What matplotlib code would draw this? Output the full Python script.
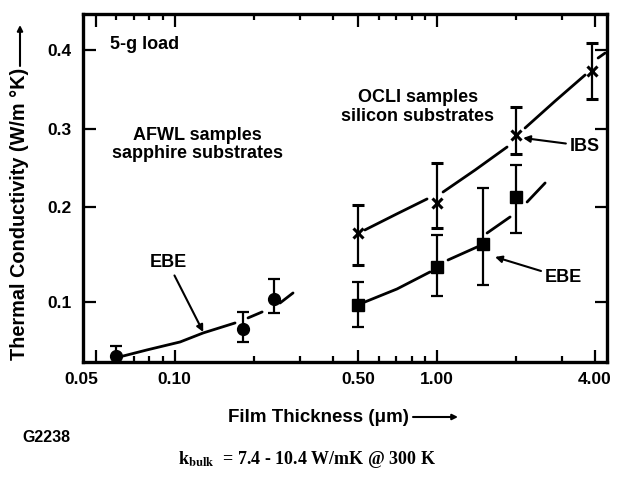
import matplotlib.pyplot as plt
import numpy as np
import matplotlib.transforms as mtransforms
from matplotlib.ticker import FixedLocator, FixedFormatter, NullFormatter

plt.rcParams['font.family'] = ['Liberation Sans', 'DejaVu Sans']
plt.rcParams['font.weight'] = 'bold'
plt.rcParams['mathtext.fontset'] = 'stix'

# AFWL samples, sapphire substrates (EBE) - circles
afwl_x = [0.060, 0.182, 0.239]
afwl_y = [0.0431, 0.0716, 0.1032]
afwl_lo = [0.033, 0.0579, 0.0884]
afwl_hi = [0.0537, 0.0895, 0.1242]

# OCLI samples, silicon substrates, IBS - crosses
ibs_x = [0.5, 1.0, 2.0, 3.9]
ibs_y = [0.1726, 0.2051, 0.2924, 0.3734]
ibs_lo = [0.1389, 0.1779, 0.2679, 0.338]
ibs_hi = [0.2026, 0.2564, 0.3278, 0.4089]

# OCLI samples, silicon substrates, EBE - squares
ebe_x = [0.5, 1.0, 1.5, 2.0]
ebe_y = [0.0968, 0.1368, 0.1611, 0.2128]
ebe_lo = [0.0737, 0.1063, 0.1179, 0.1726]
ebe_hi = [0.1211, 0.1705, 0.2244, 0.2538]

# hand drawn trend curves, broken at the markers
afwl_fit_x = [[0.0637, 0.0785, 0.105, 0.1286, 0.170], [0.1905, 0.2156], [0.2522, 0.2827]]
afwl_fit_y = [[0.0431, 0.0495, 0.0579, 0.0674, 0.0779], [0.0832, 0.0895], [0.0989, 0.1095]]

ibs_fit_x = [[0.531, 0.70, 0.916], [1.054, 1.396, 1.848], [2.164, 2.817, 3.664], [4.107, 4.367]]
ibs_fit_y = [[0.1758, 0.1925, 0.2103], [0.2192, 0.2474, 0.2769], [0.3013, 0.3354, 0.3684], [0.3899, 0.3962]]

ebe_fit_x = [[0.531, 0.704, 0.940], [1.101, 1.421], [1.551, 1.898], [2.203, 2.580]]
ebe_fit_y = [[0.1, 0.1137, 0.1316], [0.1442, 0.1579], [0.1726, 0.1895], [0.2064, 0.2308]]

x_ticks = [0.05, 0.1, 0.5, 1.0, 4.0]
x_ticklabels = ['0.05', '0.10', '0.50', '1.00', '4.00']
x_minor = [0.06, 0.07, 0.08, 0.09, 0.2, 0.3, 0.4, 0.6, 0.7, 0.8, 0.9, 2.0, 3.0]
y_ticks = [0.1, 0.2, 0.3, 0.4]
y_ticklabels = ['0.1', '0.2', '0.3', '0.4']

# the original y axis is not evenly spaced, so map it piecewise
y_ref = [0.0, 0.1, 0.2, 0.3, 0.4, 0.5]
y_pos = [-35, 60, 155, 233, 312, 391]


def y_fwd(v):
    return np.interp(v, y_ref, y_pos)


def y_inv(p):
    return np.interp(p, y_pos, y_ref)


fig = plt.figure(figsize=(6.24, 4.79), dpi=100)
ax = fig.add_axes([83 / 624, 117 / 479, 524 / 624, 348 / 479])
ax.set_xscale('log')
ax.set_yscale('function', functions=(y_fwd, y_inv))
ax.set_xlim(0.0448, 4.44)
ax.set_ylim(0.0368, 0.4456)

lw = 2.0
for xs, ys in zip(afwl_fit_x, afwl_fit_y):
    ax.plot(xs, ys, color='k', lw=lw, solid_capstyle='round', solid_joinstyle='round')
for xs, ys in zip(ibs_fit_x, ibs_fit_y):
    ax.plot(xs, ys, color='k', lw=lw, solid_capstyle='round', solid_joinstyle='round')
for xs, ys in zip(ebe_fit_x, ebe_fit_y):
    ax.plot(xs, ys, color='k', lw=lw, solid_capstyle='round', solid_joinstyle='round')


def err(y, lo, hi):
    y = np.array(y)
    return [y - np.array(lo), np.array(hi) - y]


ax.errorbar(afwl_x, afwl_y, yerr=err(afwl_y, afwl_lo, afwl_hi), fmt='o', ms=8.5,
            color='k', elinewidth=1.6, capsize=4, capthick=1.6)
ax.errorbar(ebe_x, ebe_y, yerr=err(ebe_y, ebe_lo, ebe_hi), fmt='s', ms=8,
            color='k', elinewidth=1.6, capsize=4, capthick=1.6)
ax.errorbar(ibs_x, ibs_y, yerr=err(ibs_y, ibs_lo, ibs_hi), fmt='x', ms=6.5, mew=2.2,
            color='k', elinewidth=1.6, capsize=4, capthick=1.6)

for s in ax.spines.values():
    s.set_linewidth(2.4)

ax.xaxis.set_major_locator(FixedLocator(x_ticks))
ax.xaxis.set_major_formatter(FixedFormatter(x_ticklabels))
ax.xaxis.set_minor_locator(FixedLocator(x_minor))
ax.xaxis.set_minor_formatter(NullFormatter())
ax.yaxis.set_major_locator(FixedLocator(y_ticks))
ax.yaxis.set_major_formatter(FixedFormatter(y_ticklabels))
ax.yaxis.set_minor_locator(FixedLocator([]))

ax.tick_params(which='major', direction='in', top=True, right=True,
               length=9, width=1.6, labelsize=12.5, pad=8)
ax.tick_params(which='minor', direction='in', top=True, right=True,
               length=4, width=1.6)
ax.tick_params(axis='x', which='major', pad=7)

# the 0.05 label sits at the corner of the frame
lab = ax.xaxis.get_majorticklabels()[0]
lab.set_transform(lab.get_transform() +
                  mtransforms.ScaledTranslation(-14 / 100, 0, fig.dpi_scale_trans))

fs = 13
ax.text(0.0515, 0.911, '5-g load', transform=ax.transAxes, fontsize=fs,
        ha='left', va='center')
ax.text(0.2176, 0.624, 'AFWL samples\nsapphire substrates', transform=ax.transAxes,
        fontsize=fs, ha='center', va='center', linespacing=1.1)
ax.text(0.639, 0.733, 'OCLI samples\nsilicon substrates', transform=ax.transAxes,
        fontsize=fs, ha='center', va='center', linespacing=1.1)

arrow = dict(arrowstyle='-|>', color='k', lw=1.5, mutation_scale=10, shrinkA=1, shrinkB=0)
ax.annotate('IBS', xy=(2.127, 0.2885), xytext=(3.21, 0.2782), fontsize=fs,
            ha='left', va='center', arrowprops=arrow)
ax.annotate('EBE', xy=(1.663, 0.1474), xytext=(2.58, 0.1253), fontsize=fs,
            ha='left', va='center', arrowprops=arrow)
ax.annotate('EBE', xy=(0.1286, 0.0684), xytext=(0.0945, 0.1411), fontsize=fs,
            ha='center', va='center', arrowprops=arrow)

# axis titles with arrows, as in the original
fig.text(20 / 624, 119 / 479, 'Thermal Conductivity (W/m °K)', rotation=90,
         fontsize=14.3, ha='center', va='bottom')
ax.annotate('', xy=(20, 454), xytext=(20, 413), xycoords='figure pixels',
            textcoords='figure pixels',
            arrowprops=dict(arrowstyle='-|>', color='k', lw=1.5, mutation_scale=8,
                            shrinkA=0, shrinkB=0))
fig.text(228 / 624, 62 / 479, 'Film Thickness (μm)', fontsize=13.5,
         ha='left', va='center')
ax.annotate('', xy=(458, 62), xytext=(413, 62), xycoords='figure pixels',
            textcoords='figure pixels',
            arrowprops=dict(arrowstyle='-|>', color='k', lw=1.5, mutation_scale=8,
                            shrinkA=0, shrinkB=0))

fig.text(22 / 624, 42 / 479, 'G2238', fontsize=11.5, ha='left', va='center')
fig.text(307 / 624, 19 / 479, r'k$_{\mathrm{bulk}}$  = 7.4 - 10.4 W/mK @ 300 K',
         fontsize=13, family='Liberation Serif', ha='center', va='center')

fig.savefig('out.png', dpi=100)
